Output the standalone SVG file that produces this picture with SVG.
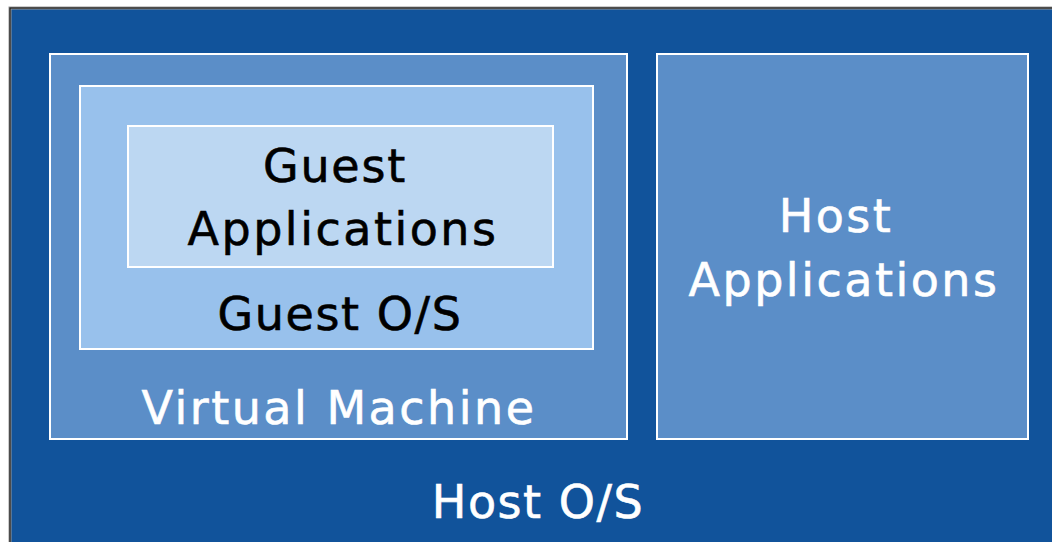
<svg xmlns="http://www.w3.org/2000/svg" width="1052" height="542" viewBox="0 0 1052 542">
  <style>
    .box { stroke: #ffffff; stroke-width: 2; }
    .lbl { font-family: "DejaVu Sans", "Open Sans", sans-serif; font-size: 46px; text-anchor: middle; letter-spacing: 2.5px; stroke-width: 0.6px; }
    .light { fill: #ffffff; stroke: #ffffff; }
    .dark { fill: #000000; stroke: #000000; }
  </style>
  <rect x="0" y="0" width="1052" height="542" fill="#ffffff"/>
  <!-- host operating system -->
  <g id="host-os">
    <rect x="10" y="8" width="1060" height="560" fill="#11539b" stroke="#9a9a9a" stroke-width="3"/>
    <rect x="10" y="8" width="1060" height="560" fill="none" stroke="#1a1a1a" stroke-width="1.2"/>
    <text class="lbl light" x="538" y="518" style="letter-spacing:1.5px">Host O/S</text>
  </g>
  <g id="virtual-machine">
    <rect class="box" x="50" y="54" width="577" height="385" fill="#5b8ec8"/>
    <text class="lbl light" x="339" y="424">Virtual Machine</text>
  </g>
  <g id="guest-os">
    <rect class="box" x="80" y="86" width="513" height="263" fill="#98c1ec"/>
    <text class="lbl dark" x="340" y="330" style="letter-spacing:1.6px">Guest O/S</text>
  </g>
  <g id="guest-applications">
    <rect class="box" x="128" y="126" width="425" height="141" fill="#bcd7f2"/>
    <text class="lbl dark" x="335" y="182" style="letter-spacing:1.8px">Guest</text>
    <text class="lbl dark" x="343" y="245">Applications</text>
  </g>
  <g id="host-applications">
    <rect class="box" x="657" y="54" width="371" height="385" fill="#5b8ec8"/>
    <text class="lbl light" x="836" y="232">Host</text>
    <text class="lbl light" x="844" y="296">Applications</text>
  </g>
  <g id="connectors"/>
</svg>
